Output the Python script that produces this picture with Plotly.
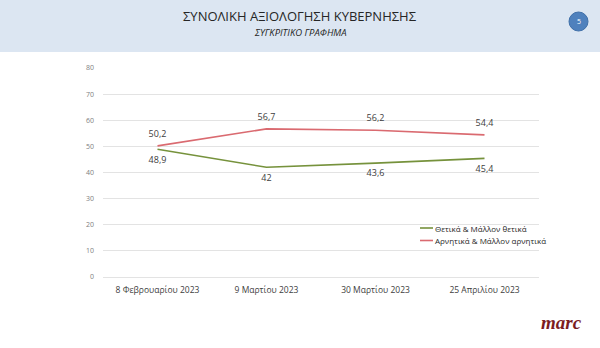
import plotly.graph_objects as go

# Survey dates (x categories)
dates = ["8 Φεβρουαρίου 2023", "9 Μαρτίου 2023", "30 Μαρτίου 2023", "25 Απριλίου 2023"]

# Series values (%)
positive = [48.9, 42.0, 43.6, 45.4]
negative = [50.2, 56.7, 56.2, 54.4]

series_names = ["Θετικά & Μάλλον θετικά", "Αρνητικά & Μάλλον αρνητικά"]
y_ticks = [0, 10, 20, 30, 40, 50, 60, 70, 80]

GREEN = "#76923c"
RED = "#da6a70"
FONT = "Open Sans"


def fmt(v):
    return f"{v:g}".replace(".", ",")


# plot area in pixels
W, H = 600, 348
L, R, T, B = 103, 61, 68, 71
PW, PH = W - L - R, H - T - B


def px(x):
    return (x - L) / PW


def py(y):
    return (H - B - y) / PH


def label(text, x, y, size, color="#262626", family=FONT, xanchor="center"):
    return dict(text=text, x=px(x), y=py(y), xref="paper", yref="paper",
                xanchor=xanchor, yanchor="middle", showarrow=False,
                font=dict(family=family, size=size, color=color))


fig = go.Figure()

# invisible markers push the value labels away from the line
fig.add_trace(go.Scatter(
    x=dates, y=positive, name=series_names[0], mode="lines+markers+text",
    line=dict(color=GREEN, width=1.6),
    marker=dict(size=9, opacity=0),
    text=[fmt(v) for v in positive], textposition="bottom center",
    textfont=dict(family=FONT, size=9, color="#404040"),
    showlegend=False, cliponaxis=False, hoverinfo="x+y",
))
fig.add_trace(go.Scatter(
    x=dates, y=negative, name=series_names[1], mode="lines+markers+text",
    line=dict(color=RED, width=1.6),
    marker=dict(size=9, opacity=0),
    text=[fmt(v) for v in negative], textposition="top center",
    textfont=dict(family=FONT, size=9, color="#404040"),
    showlegend=False, cliponaxis=False, hoverinfo="x+y",
))

shapes = [
    # header band
    dict(type="rect", xref="paper", yref="paper", x0=px(0), x1=px(W), y0=py(0), y1=py(52),
         fillcolor="#dce6f2", line=dict(width=0), layer="below"),
    # page badge
    dict(type="circle", xref="paper", yref="paper", x0=px(569), x1=px(588), y0=py(31), y1=py(12),
         fillcolor="#4f81bd", line=dict(color="#3f6fa8", width=1), layer="below"),
]

annotations = [
    label("ΣΥΝΟΛΙΚΗ ΑΞΙΟΛΟΓΗΣΗ ΚΥΒΕΡΝΗΣΗΣ", 300, 16, 13),
    label("<i>ΣΥΓΚΡΙΤΙΚΟ ΓΡΑΦΗΜΑ</i>", 300, 33, 9.5),
    label("5", 578.5, 21.5, 7, color="white"),
    label("<b><i>marc</i></b>", 561, 322, 19, color="#7b1c1f", family="Liberation Serif"),
]

# legend drawn as short line samples with labels
for i, (name, color) in enumerate(zip(series_names, [GREEN, RED])):
    ly = 228 + i * 12.5
    shapes.append(dict(type="line", xref="paper", yref="paper", x0=px(420), x1=px(433),
                       y0=py(ly), y1=py(ly), line=dict(color=color, width=1.6)))
    annotations.append(label(name, 433, ly, 8, xanchor="left"))

fig.update_layout(
    width=W, height=H,
    margin=dict(l=L, r=R, t=T, b=B),
    paper_bgcolor="white", plot_bgcolor="white",
    font=dict(family=FONT),
    shapes=shapes, annotations=annotations,
    xaxis=dict(type="category", range=[-0.5, 3.5], showgrid=False, showline=False, ticks="",
               ticklabelstandoff=6,
               tickfont=dict(family=FONT, size=8.5, color="#404040")),
    yaxis=dict(range=[0, 80], tickvals=y_ticks, showgrid=True, gridcolor="#e3e3e3",
               gridwidth=1, zeroline=True, zerolinecolor="#e3e3e3", zerolinewidth=1,
               showline=False, ticks="", ticklabelstandoff=8,
               tickfont=dict(family=FONT, size=7, color="#808080")),
)

fig.write_html("out.html")
